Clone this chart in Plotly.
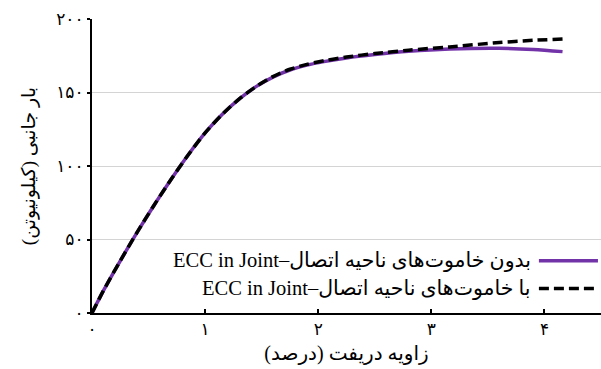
import plotly.graph_objects as go

# Data
drift_no = [0, 0.1, 0.25, 0.4, 0.55, 0.7, 0.85, 1.0, 1.15, 1.3, 1.45, 1.6, 1.75, 1.9, 2.05, 2.25, 2.5, 2.8, 3.16, 3.6, 3.9, 4.16]
load_no = [0, 15, 35.5, 55, 73.5, 91, 107.5, 122.5, 135, 145.5, 154, 160.5, 165.3, 168.6, 171, 173.5, 175.8, 178, 179.6, 180.1, 179.3, 177.8]
drift_with = [0, 0.1, 0.25, 0.4, 0.55, 0.7, 0.85, 1.0, 1.15, 1.3, 1.45, 1.6, 1.75, 1.9, 2.05, 2.25, 2.5, 2.8, 3.16, 3.6, 3.9, 4.16]
load_with = [0, 15, 35.5, 55, 73.5, 91, 107.5, 122.5, 135, 145.5, 154, 160.8, 165.8, 169.1, 171.6, 174.1, 176.5, 178.8, 181, 184, 185.5, 186.4]

x_ticks = [0, 1, 2, 3, 4]
x_ticktext = ["۰", "۱", "۲", "۳", "۴"]
y_ticks = [0, 50, 100, 150, 200]
y_ticktext = ["۰", "۵۰", "۱۰۰", "۱۵۰", "۲۰۰"]

name_no = "بدون خاموت‌های ناحیه اتصال–ECC in Joint"
name_with = "با خاموت‌های ناحیه اتصال–ECC in Joint"
x_title = "زاویه دریفت (درصد)"
y_title = "بار جانبی (کیلونیوتن)"

RLE, PDF = "\u202b", "\u202c"
PURPLE = "#7232A8"
FONT = "Liberation Serif, DejaVu Serif, DejaVu Sans"

fig = go.Figure()
fig.add_trace(go.Scatter(x=drift_no, y=load_no, mode="lines", name=name_no,
                         line=dict(color=PURPLE, width=3.5, shape="spline", smoothing=0.8)))
fig.add_trace(go.Scatter(x=drift_with, y=load_with, mode="lines", name=name_with,
                         line=dict(color="black", width=3.5, dash="10px,5px", shape="spline", smoothing=0.8)))

# manual RTL legend (symbol on the right of the text)
legend_rows = [(name_no, PURPLE, "solid", 0.178), (name_with, "black", "10px,5px", 0.083)]
for text, color, dash, yp in legend_rows:
    fig.add_shape(type="line", xref="paper", yref="paper", x0=0.878, x1=0.994, y0=yp, y1=yp,
                  line=dict(color=color, width=3.5, dash=dash))
    fig.add_annotation(xref="paper", yref="paper", x=0.866, y=yp, xanchor="right", yanchor="middle",
                       text=RLE + text + PDF, showarrow=False,
                       font=dict(family=FONT, size=20.5, color="black"))

fig.update_layout(
    width=601, height=369,
    margin=dict(l=92, r=0, t=19, b=56),
    paper_bgcolor="white", plot_bgcolor="white",
    showlegend=False,
    font=dict(family=FONT, size=17, color="black"),
    xaxis=dict(range=[0, 4.5], tickvals=x_ticks, ticktext=x_ticktext,
               showline=True, linecolor="black", linewidth=2, showgrid=False, zeroline=False,
               ticks="inside", ticklen=4, tickcolor="black", tickwidth=1.5,
               tickfont=dict(size=17),
               title=dict(text=RLE + x_title + PDF, font=dict(size=20), standoff=8)),
    yaxis=dict(range=[0, 200], tickvals=y_ticks, ticktext=y_ticktext,
               showline=True, linecolor="black", linewidth=2,
               showgrid=True, gridcolor="#d4d4d4", gridwidth=1.2, zeroline=False,
               ticks="outside", ticklen=3, tickcolor="black", tickwidth=1.5,
               tickfont=dict(size=17),
               title=dict(text=RLE + y_title + PDF, font=dict(size=19), standoff=16)),
)

fig.write_html("out.html")
